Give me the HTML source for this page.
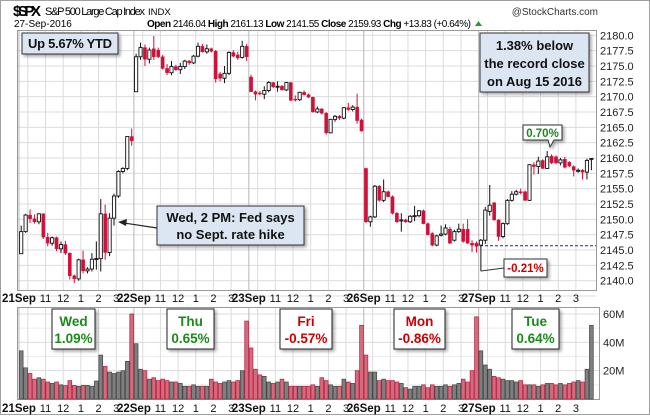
<!DOCTYPE html>
<html><head><meta charset="utf-8">
<style>
html,body{margin:0;padding:0;background:#fff;}
body{width:650px;height:415px;overflow:hidden;font-family:"Liberation Sans",sans-serif;}
svg text{font-family:"Liberation Sans",sans-serif;}
</style></head>
<body>
<svg id="chart" width="650" height="415" viewBox="0 0 650 415" xmlns="http://www.w3.org/2000/svg">
<defs>
<filter id="sh" x="-10%" y="-10%" width="130%" height="140%"><feDropShadow dx="2" dy="2" stdDeviation="1.5" flood-color="#000" flood-opacity="0.35"/></filter>
</defs>
<rect x="0.5" y="0.5" width="649" height="414" fill="#fff" stroke="#a0a0a0"/>
<g id="grid"></g>
<rect x="17.5" y="30.5" width="579" height="260" fill="none" stroke="#999"/>
<rect x="17.5" y="307.5" width="582" height="92" fill="none" stroke="#999"/>
<g id="vol"></g>
<g id="candles"></g>
<g id="axes"></g>

<text x="13" y="16" font-size="15" font-weight="bold" textLength="28">$SPX</text>
<text x="45" y="15" font-size="11" textLength="100">S&amp;P 500 Large Cap Index</text>
<text x="148" y="15" font-size="9.5">INDX</text>
<text x="598" y="15" font-size="10" fill="#333" text-anchor="end">@StockCharts.com</text>
<text x="14" y="27" font-size="10">27-Sep-2016</text>
<text x="147" y="27" font-size="10" textLength="324"><tspan font-weight="bold">Open</tspan> 2146.04 <tspan font-weight="bold">High</tspan> 2161.13 <tspan font-weight="bold">Low</tspan> 2141.55 <tspan font-weight="bold">Close</tspan> 2159.93 <tspan font-weight="bold">Chg</tspan> +13.83 (+0.64%)</text>
<polygon points="475,26 482,26 478.5,21" fill="#2a9a2a"/>

<line x1="480" y1="245.7" x2="596" y2="245.7" stroke="#1a1acc" stroke-dasharray="3,2"/>

<g filter="url(#sh)">
<rect x="22" y="33" width="96" height="21" fill="#dce6f2" stroke="#333"/>
</g>
<text x="70" y="48" font-size="13" font-weight="bold" text-anchor="middle" fill="#111" textLength="84">Up 5.67% YTD</text>

<g filter="url(#sh)">
<rect x="480" y="33" width="109" height="59" fill="#dce6f2" stroke="#333"/>
</g>
<text font-size="13" font-weight="bold" text-anchor="middle" fill="#111"><tspan x="534.5" y="50">1.38% below</tspan><tspan x="534.5" y="68">the record close</tspan><tspan x="534.5" y="86">on Aug 15 2016</tspan></text>

<line x1="157" y1="228" x2="124" y2="223" stroke="#222" stroke-width="1.2"/>
<polygon points="118,222 127,219 126,226" fill="#222"/>
<g filter="url(#sh)">
<rect x="157" y="206" width="147" height="39" fill="#dce6f2" stroke="#333"/>
</g>
<text font-size="13" font-weight="bold" text-anchor="middle" fill="#111"><tspan x="230.5" y="222">Wed, 2 PM: Fed says</tspan><tspan x="230.5" y="239">no Sept. rate hike</tspan></text>

<g filter="url(#sh)">
<path d="M523,125 H562 V140 H554 L550,147 L548,140 H523 Z" fill="#fff" stroke="#333"/>
</g>
<text x="542.5" y="137" font-size="11.5" font-weight="bold" text-anchor="middle" fill="#1a8a1a">0.70%</text>

<line x1="481" y1="271" x2="504" y2="268" stroke="#333"/>
<g filter="url(#sh)">
<rect x="504" y="259" width="43" height="18" fill="#fff" stroke="#333"/>
</g>
<text x="525.5" y="272" font-size="11.5" font-weight="bold" text-anchor="middle" fill="#cc0000">-0.21%</text>

<g id="dayboxes"></g>
</svg>
<script>
const opens = [
2144.4,2148,2150.7,2150.1,2149.6,2150.9,2147.1,2146.1,2147,2145.2,2145.9,2144.5,2140.8,2140.3,2143.4,2141.6,2141.9,2143.5,2143.6,2150.9,2144.6,2150.2,2153.8,2157.8,2158.3,2163.5,
2170.8,2176.5,2178,2176.1,2177.8,2177.6,2176.5,2174.6,2173.9,2174.9,2174.4,2174.9,2175.8,2175.5,2176.6,2178.2,2177.3,2177.8,2177.4,2173.7,2173,2173.8,2177.2,2176.8,2176.4,2178.2,
2173.2,2170.8,2170.6,2170.4,2171,2172.3,2171.6,2171.7,2171.1,2172.3,2169.6,2169.5,2170.7,2170.3,2169.9,2167.5,2168,2167.3,2164.1,2166.3,2166.8,2166.5,2168.2,2167.9,2168.3,2166.2,
2158.3,2149.6,2150.4,2155.4,2153.1,2154.5,2153.7,2151,2149.8,2149.9,2149.6,2150.5,2150.6,2151.4,2149.3,2147.7,2145.8,2147.4,2147.6,2148.4,2146.6,2148,2148.4,2148.4,2146.1,2146.1,
2145.8,2146.6,2151.3,2152.7,2149.9,2147.2,2149.3,2153.1,2154.1,2154.5,2154.5,2153.1,2158.9,2158.6,2159.6,2158.3,2160.3,2160.2,2159.2,2159.8,2159.3,2158.6,2158,2158,2157.7,2159.8];
const highs = [
2149,2150.9,2151.6,2150.8,2151,2151,2147.8,2147.2,2147.2,2146.4,2146.5,2144.6,2141,2143.6,2144.9,2142.2,2144.5,2146.4,2153.3,2152.4,2151,2154.2,2158,2158.5,2163.5,2164.8,
2177,2178.8,2178.5,2178,2179.9,2178,2176.8,2175.3,2175.8,2175.2,2175.5,2176,2176,2176.8,2178.8,2178.6,2178.5,2178,2177.6,2174,2175,2177.4,2177.6,2177.3,2179.1,2178.6,
2173.6,2171,2170.9,2171.7,2172.5,2172.4,2172.5,2171.9,2172.4,2172.4,2170.2,2170.8,2171,2170.5,2170,2168.4,2168.1,2167.5,2166.4,2167,2167,2168.3,2169,2168.6,2170.5,2166.4,
2158.4,2150.6,2155.6,2155.6,2156.5,2154.7,2153.9,2151.2,2151,2150.1,2150.7,2152.2,2151.5,2151.6,2149.5,2147.9,2147.5,2149,2149.2,2148.8,2148.3,2149.3,2149.3,2150,2146.6,2146.4,
2146.8,2152,2155.6,2152.8,2150,2149.5,2153.3,2154.6,2154.8,2155,2154.7,2159,2159.3,2160.2,2159.8,2161.13,2160.6,2160.4,2160,2160.2,2159.5,2158.8,2158.3,2158.2,2159.9,2160];
const lows = [
2144.4,2147.8,2149.4,2149.3,2149.2,2146.8,2145.6,2145.7,2144.8,2144.5,2144.2,2140.2,2139.6,2140,2141.2,2141.2,2141.5,2141.8,2141.5,2143.4,2144,2149,2153.5,2157.5,2158,2162,
2170.8,2176,2175,2175.4,2176,2176.3,2174.4,2173.5,2173.5,2174.2,2173.7,2174.5,2175.2,2175.3,2176.4,2177.2,2177,2177.2,2172.3,2172.5,2172.2,2173.5,2176.4,2176,2176.2,2175.8,
2170.8,2169.4,2170.2,2169.6,2170.7,2171.4,2170.8,2171,2170.9,2169.3,2169.2,2169.3,2170.2,2169.8,2167.4,2167.3,2167.1,2163.8,2164,2165.9,2166.2,2166.3,2167.7,2167.6,2165.6,2164.3,
2149.4,2148.8,2150.2,2152.9,2152.8,2153.6,2150.8,2149.4,2148,2149.4,2149.4,2149.7,2150.3,2149.2,2147.4,2145.6,2145.6,2147.2,2147.4,2146,2146.4,2147.8,2146.2,2146,2144.7,2144.6,
2141.55,2146,2150.6,2149.8,2146.5,2146.9,2149.1,2152.9,2153.9,2154.1,2153,2153,2157.3,2157.4,2158.2,2158.2,2159,2159,2158.8,2158.3,2158.5,2157,2157.6,2156.5,2156.5,2158];
const closes = [
2148,2150.7,2150.1,2149.6,2150.9,2147.1,2146.1,2147,2145.2,2145.9,2144.5,2140.8,2140.3,2143.4,2141.6,2141.9,2143.5,2143.6,2150.9,2144.6,2150.2,2153.8,2157.8,2158.3,2163.5,2162.8,
2176.5,2178,2176.1,2177.6,2176.5,2176.5,2174.6,2173.9,2174.9,2174.4,2174.9,2175.8,2175.5,2176.6,2178.2,2177.3,2177.8,2177.4,2172.9,2173,2173.8,2177.2,2176.6,2176.3,2178.2,2176.5,
2170.8,2170.4,2170.5,2171,2172.3,2171.6,2171.7,2171.1,2172.3,2169.4,2169.5,2170.7,2170.3,2169.9,2167.5,2168,2167.3,2164.1,2166.3,2166.8,2166.5,2168.2,2167.9,2168.3,2166.1,2164.4,
2149.6,2150.4,2155.4,2153.1,2154.5,2153.7,2151,2149.6,2149.9,2149.6,2150.5,2150.6,2151.4,2149.3,2147.5,2145.8,2147.3,2147.6,2148.6,2146.1,2148,2148.4,2146.4,2146.1,2145.8,2145.6,
2146.6,2151.5,2152.3,2149.9,2147.2,2149.3,2153.1,2154.1,2154.5,2154.4,2153.1,2158.9,2158.6,2159.5,2158.3,2160.2,2159.2,2159.2,2159.7,2158.5,2158.7,2158,2158,2157.7,2159.6,2159.93];
const volumes = [
34,22,18,14,15,14,12,11,12,10,9.5,13,9.6,9,9.6,9.6,9,12.7,31,23,19,18,19,20,26.6,60,
39,21,20,14,15,13,14,13,12,12,11,9,9,10,9,9,9,14,12,11,12,13,12,13,20,55,
36,21,17,16,12,11,12,14,12,9,9,9,9,9,10,9,15,13,10,9,9,14,12,11,20,52,
31,19,19,13,14,13,13,12,11,8,7,9,9,10,8,10,9,9,10,9,10,11,14,12,20,58,
34,24,21,16,15,14,13,13,12,13,10,10,10,9,10,11,11,10,11,10,11,12,13,12,21,52];
const priceTicks = [2140,2142.5,2145,2147.5,2150,2152.5,2155,2157.5,2160,2162.5,2165,2167.5,2170,2172.5,2175,2177.5,2180];
const volTicks = [20,40,60];
const dayLabels = ["21Sep","22Sep","23Sep","26Sep","27Sep"];
const hourLabels = ["11","12","1","2","3"];
const dayNames = ["Wed","Thu","Fri","Mon","Tue"];
const dayChanges = ["1.09%","0.65%","-0.57%","-0.86%","0.64%"];

const NS="http://www.w3.org/2000/svg";
const X0=19, STEP=4.42, BARS_PER_DAY=26;
const PMAX=2180, PY0=35.3, PPX=6.135;
const VY0=399, VPX=1.417;
function xBar(i){return X0+i*STEP+2.2;}
function yP(p){return PY0+(PMAX-p)*PPX;}
function yV(v){return VY0-v*VPX;}
function mk(tag,attrs,parent){const e=document.createElementNS(NS,tag);for(const k in attrs)e.setAttribute(k,attrs[k]);parent.appendChild(e);return e;}

const grid=document.getElementById('grid'), axes=document.getElementById('axes');
priceTicks.forEach(t=>{
  const y=yP(t);
  const l=mk('line',{x1:17,x2:596,y1:y,y2:y,stroke:'#dcdcdc'},grid);
  
  
  const tx=mk('text',{x:600,y:y+4,'font-size':11,fill:'#222'},axes);
  
  
  tx.textContent=t.toFixed(1);
});
const yb=yP(2137.5);
mk('line',{x1:17,x2:596,y1:yb,y2:yb,stroke:'#dcdcdc'},grid);
volTicks.forEach(t=>{
  const y=yV(t);
  const l=mk('line',{x1:17,x2:599,y1:y,y2:y,stroke:'#dcdcdc'},grid);
  
  
  const tx=mk('text',{x:603,y:y+4,'font-size':11,fill:'#222'},axes);
  
  
  tx.textContent=t+'M';
});
[10,30,50].forEach(t=>{const y=yV(t);mk('line',{x1:17,x2:599,y1:y,y2:y,stroke:'#ececec'},grid);});
const hourOffsets=[6,10,14,18,22];
dayLabels.forEach((d,di)=>{
  const xd=X0+di*BARS_PER_DAY*STEP;
  [[30,290],[307,399]].forEach(([a,b])=>{
    const l=mk('line',{x1:xd,x2:xd,y1:a,y2:b,stroke:'#b8b8b8'},grid);
    
    
    [2,6,10,14,18,22].forEach(o=>{const xx=xd+o*STEP;mk('line',{x1:xx,x2:xx,y1:a,y2:b,stroke:'#dcdcdc'},grid);});
  });
  [298,408].forEach(yy=>{
    const t=mk('text',{x:xd,y:yy+4,'font-size':11.5,'font-weight':'bold','text-anchor':'middle',fill:'#111'},axes);
    
    
    t.textContent=d;
    hourLabels.forEach((h,hi)=>{
      const ht=mk('text',{x:xd+hourOffsets[hi]*STEP,y:yy+4,'font-size':11,'text-anchor':'middle',fill:'#111'},axes);
      
      
      ht.textContent=h;
    });
  });
});
const cg=document.getElementById('candles'), vg=document.getElementById('vol');
const RED='#d0103a';
for(let i=0;i<opens.length;i++){
  const x=xBar(i), o=opens[i], c=closes[i], h=highs[i], lo=lows[i];
  const up=c>=o, col=up?'#111':RED;
  const w=mk('line',{x1:x,x2:x,y1:yP(h),y2:yP(lo),stroke:col,'stroke-width':1},cg);
  
  
  const top=yP(Math.max(o,c)), bot=yP(Math.min(o,c));
  const bh=Math.max(1,bot-top);
  const b=mk('rect',{x:x-1.6,y:top,width:3.2,height:bh,fill:up?'#fff':RED,stroke:up?'#111':RED,'stroke-width':up?0.9:0.4},cg);
  
  
  const vb=mk('rect',{x:x-1.9,y:yV(volumes[i]),width:3.8,height:volumes[i]*VPX,fill:up?'#7f7f7f':'#d66a7c',stroke:up?'#444':'#b02040','stroke-width':0.7},vg);
  
  
}
const boxX=[52,167,280,394,512], boxW=[43,47,52,51,47];
const dg=document.getElementById('dayboxes');
dayNames.forEach((n,i)=>{
  const r=mk('rect',{x:boxX[i],y:309,width:boxW[i],height:40,fill:'#fff',stroke:'#222',filter:'url(#sh)'},dg);
  
  
  const col=dayChanges[i].startsWith('-')?'#cc0000':'#1a8a1a';
  const t1=mk('text',{x:boxX[i]+boxW[i]/2,y:326,'font-size':13.5,'font-weight':'bold','text-anchor':'middle',fill:col},dg);
  
  
  t1.textContent=n;
  const t2=mk('text',{x:boxX[i]+boxW[i]/2,y:343,'font-size':13.5,'font-weight':'bold','text-anchor':'middle',fill:col},dg);
  
  
  t2.textContent=dayChanges[i];
});
</script>
</body></html>
